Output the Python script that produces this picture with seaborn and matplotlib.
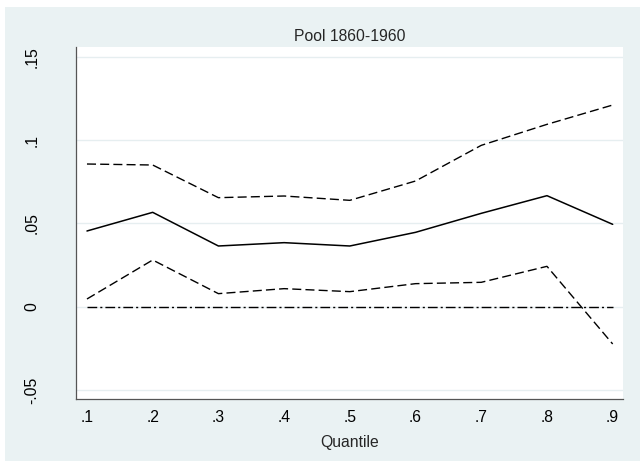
import numpy as np
import pandas as pd
import seaborn as sns
import matplotlib.pyplot as plt
from matplotlib.patches import Rectangle

quantiles = [0.1, 0.2, 0.3, 0.4, 0.5, 0.6, 0.7, 0.8, 0.9]
coef = [0.0454, 0.0566, 0.0364, 0.0384, 0.0364, 0.0446, 0.0560, 0.0666, 0.0494]
upper = [0.0856, 0.0850, 0.0654, 0.0664, 0.0638, 0.0754, 0.0968, 0.1094, 0.1210]
lower = [0.0046, 0.0280, 0.0078, 0.0108, 0.0090, 0.0138, 0.0146, 0.0242, -0.0224]
xticks = [0.1, 0.2, 0.3, 0.4, 0.5, 0.6, 0.7, 0.8, 0.9]
xticklabels = ['.1', '.2', '.3', '.4', '.5', '.6', '.7', '.8', '.9']
yticks = [-0.05, 0, 0.05, 0.1, 0.15]
yticklabels = ['-.05', '0', '.05', '.1', '.15']

bg = '#EAF2F3'
fs = 11.3
sns.set_style('white')
plt.rcParams['font.family'] = ['Liberation Sans', 'DejaVu Sans']

fig = plt.figure(figsize=(6.42, 4.66), dpi=100)
# light outer panel like Stata's s2color scheme
fig.patches.append(Rectangle((5 / 642, 5 / 466), 635 / 642, 454 / 466,
                             transform=fig.transFigure, facecolor=bg,
                             edgecolor='none', zorder=-10))
ax = fig.add_axes([76 / 642, 66.7 / 466, 547 / 642, 352.6 / 466])
ax.set_zorder(1)
ax.set_facecolor('white')

df = pd.DataFrame({'q': quantiles, 'coef': coef, 'upper': upper, 'lower': lower})

# confidence bands and point estimates
sns.lineplot(data=df, x='q', y='upper', color='black', lw=1.0, ax=ax)
sns.lineplot(data=df, x='q', y='lower', color='black', lw=1.0, ax=ax)
sns.lineplot(data=df, x='q', y='coef', color='black', lw=1.1, ax=ax)
for ln in ax.lines[:2]:
    ln.set_dashes((6.5, 3))
ax.hlines(0, quantiles[0], quantiles[-1], color='black', lw=1.0,
          linestyles=[(0, (7, 2.2, 1.5, 2.2))])

ax.set_xlim(0.0833, 0.9157)
ax.set_ylim(-0.0556, 0.156)
ax.set_xticks(xticks)
ax.set_xticklabels(xticklabels)
ax.set_yticks(yticks)
ax.set_yticklabels(yticklabels, rotation=90, va='center')
ax.grid(axis='y', color='#E6EEF0', lw=1.0)
ax.set_axisbelow(True)

ax.tick_params(axis='both', direction='out', length=5, width=0.8,
               color='#555555', labelsize=fs, labelcolor='black', pad=3)
ax.tick_params(axis='y', pad=21.5)
for s in ['top', 'right']:
    ax.spines[s].set_visible(False)
for s in ['left', 'bottom']:
    ax.spines[s].set_color('#555555')
    ax.spines[s].set_linewidth(0.9)

ax.set_xlabel('Quantile', fontsize=fs, labelpad=7)
ax.set_ylabel('')
ax.set_title('Pool 1860-1960', fontsize=fs, pad=4)

plt.savefig('out.png', dpi=100)
